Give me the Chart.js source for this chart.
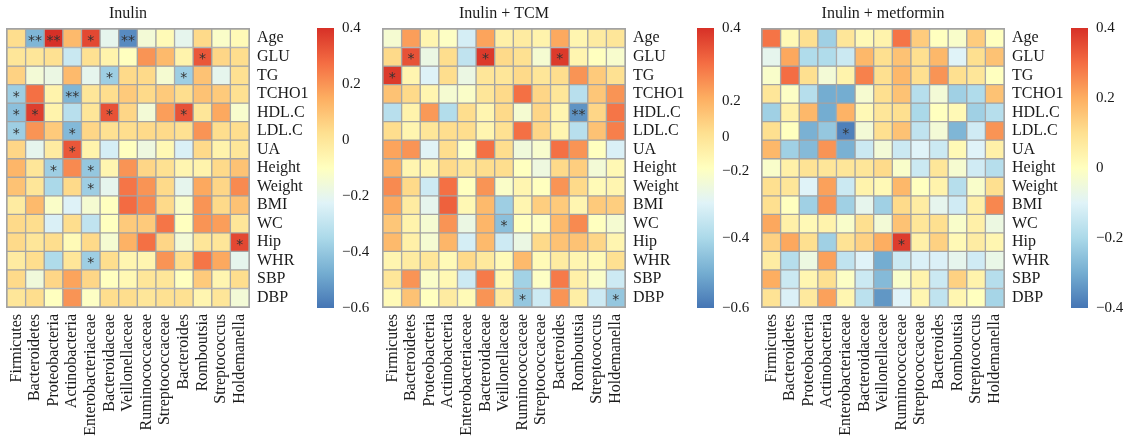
<!DOCTYPE html>
<html>
<head>
<meta charset="utf-8">
<script src="https://cdn.jsdelivr.net/npm/chart.js@4"></script>
<style>
  body { margin: 0; background: #fff; width: 1124px; height: 438px; position: relative; overflow: hidden; }
  canvas { position: absolute; top: 0; }
</style>
</head>
<body>
<canvas id="p1" width="318" height="438" style="left:0px"></canvas>
<canvas id="cb1" width="53" height="438" style="left:317px"></canvas>
<canvas id="p2" width="321" height="438" style="left:376px"></canvas>
<canvas id="cb2" width="53" height="438" style="left:697px"></canvas>
<canvas id="p3" width="316" height="438" style="left:755px"></canvas>
<canvas id="cb3" width="53" height="438" style="left:1071px"></canvas>
<script>
// genera / families on the x axis
const taxa = ['Firmicutes', 'Bacteroidetes', 'Proteobacteria', 'Actinobacteria', 'Enterobacteriaceae',
    'Bacteroidaceae', 'Veillonellaceae', 'Ruminococcaceae', 'Streptococcaceae', 'Bacteroides',
    'Romboutsia', 'Streptococcus', 'Holdemanella'];
// clinical traits, top to bottom
const traits = ['Age', 'GLU', 'TG', 'TCHO1', 'HDL.C', 'LDL.C', 'UA', 'Height', 'Weight', 'BMI', 'WC', 'Hip', 'WHR', 'SBP', 'DBP'];

// correlation values (one row per trait)
const inulinVals = [
    [0.03, -0.45, 0.40, 0.12, 0.35, -0.20, -0.55, -0.15, -0.08, -0.20, 0.04, -0.12, -0.08],
    [0.00, 0.00, 0.02, -0.28, 0.02, -0.05, -0.10, 0.20, 0.12, -0.05, 0.32, 0.05, 0.03],
    [0.06, -0.15, -0.18, 0.12, -0.20, -0.38, 0.04, 0.04, -0.14, -0.38, 0.10, -0.20, 0.02],
    [-0.38, 0.27, -0.05, -0.45, 0.00, 0.03, 0.08, 0.04, 0.08, 0.03, 0.10, 0.08, 0.02],
    [-0.42, 0.37, -0.05, -0.32, 0.00, 0.33, 0.05, -0.15, 0.18, 0.33, 0.00, 0.16, -0.13],
    [-0.38, 0.20, 0.08, -0.44, 0.05, 0.02, 0.03, 0.04, 0.04, 0.02, 0.20, 0.03, 0.03],
    [0.05, -0.20, -0.02, 0.32, -0.05, -0.25, -0.10, -0.17, -0.07, -0.24, 0.04, -0.05, 0.00],
    [0.13, 0.00, -0.38, 0.22, -0.40, -0.06, 0.20, 0.05, 0.02, -0.06, -0.05, 0.04, 0.10],
    [0.10, 0.00, -0.35, 0.04, -0.38, -0.20, 0.26, 0.20, 0.04, -0.20, 0.16, 0.05, 0.22],
    [-0.02, 0.12, -0.12, -0.23, -0.14, -0.10, 0.28, 0.22, 0.04, -0.12, 0.20, 0.04, 0.10],
    [0.04, 0.03, -0.24, 0.03, -0.30, -0.10, 0.08, 0.08, 0.26, -0.10, 0.20, 0.18, 0.00],
    [0.04, 0.00, 0.03, -0.08, 0.04, -0.14, 0.14, 0.27, 0.05, -0.15, 0.00, 0.00, 0.35],
    [-0.02, 0.03, -0.34, 0.00, -0.38, 0.03, -0.06, -0.06, 0.20, 0.03, 0.26, 0.16, -0.20],
    [0.04, -0.16, 0.05, 0.17, 0.05, -0.10, -0.07, 0.00, 0.00, -0.10, 0.08, -0.06, 0.03],
    [0.00, 0.03, -0.10, 0.20, -0.11, 0.03, 0.03, 0.00, 0.02, 0.02, -0.06, 0.00, -0.15]
];
const tcmVals = [
    [-0.14, 0.18, -0.06, -0.11, -0.25, 0.17, -0.04, -0.02, -0.05, 0.16, -0.06, -0.02, 0.00],
    [0.04, 0.33, -0.18, 0.03, -0.30, 0.38, 0.04, 0.02, -0.14, 0.38, -0.06, -0.10, -0.13],
    [0.38, -0.06, -0.23, 0.03, -0.18, 0.00, 0.00, 0.04, 0.00, 0.03, 0.20, 0.08, 0.02],
    [0.10, 0.04, -0.06, -0.14, -0.12, 0.00, 0.04, 0.27, 0.05, 0.00, -0.32, 0.09, 0.20],
    [-0.32, -0.05, 0.19, -0.33, 0.03, -0.06, 0.04, -0.14, 0.05, -0.06, -0.53, 0.05, 0.26],
    [0.03, -0.06, 0.00, 0.03, 0.03, -0.06, 0.02, 0.27, 0.05, -0.06, -0.32, 0.10, 0.24],
    [0.17, 0.20, -0.22, 0.03, -0.11, 0.27, 0.03, -0.16, -0.13, 0.27, 0.20, -0.10, -0.24],
    [0.14, -0.06, -0.06, 0.04, 0.00, 0.03, 0.03, -0.10, -0.17, 0.04, 0.07, -0.15, -0.07],
    [0.22, 0.04, -0.27, 0.27, -0.10, 0.20, -0.12, -0.06, -0.10, 0.20, 0.04, -0.08, -0.06],
    [0.16, -0.02, -0.20, 0.30, -0.07, 0.12, -0.38, -0.06, 0.07, 0.08, -0.06, 0.08, 0.07],
    [0.09, -0.05, -0.14, 0.20, -0.18, 0.13, -0.42, -0.10, -0.11, 0.12, 0.22, -0.10, -0.14],
    [0.12, -0.04, -0.14, 0.13, -0.25, 0.12, -0.27, -0.18, 0.04, 0.10, 0.10, 0.05, -0.06],
    [-0.06, -0.02, 0.00, -0.08, 0.04, -0.01, -0.08, 0.12, -0.08, -0.02, -0.06, -0.08, 0.02],
    [0.00, 0.20, -0.12, -0.07, -0.27, 0.25, -0.07, -0.37, -0.11, 0.25, -0.04, -0.12, -0.27],
    [-0.08, 0.10, -0.10, -0.02, -0.08, 0.20, -0.02, -0.40, -0.27, 0.20, -0.03, -0.27, -0.40]
];
const metforminVals = [
    [0.29, 0.02, 0.10, -0.22, 0.08, 0.02, 0.04, 0.29, 0.14, 0.00, -0.02, 0.14, 0.00],
    [-0.08, 0.21, -0.19, -0.19, -0.14, 0.18, 0.10, 0.16, 0.10, 0.18, -0.10, 0.10, 0.16],
    [-0.02, 0.30, 0.10, -0.04, 0.04, 0.27, 0.10, 0.18, 0.10, 0.24, 0.10, 0.08, 0.00],
    [0.08, -0.01, -0.18, -0.30, -0.30, -0.03, 0.10, 0.16, -0.18, -0.04, -0.22, -0.19, 0.16],
    [-0.22, 0.05, 0.18, -0.30, 0.19, 0.02, 0.08, 0.10, -0.20, 0.00, 0.02, -0.22, -0.18],
    [0.10, 0.00, -0.29, -0.24, -0.38, -0.04, 0.10, 0.16, -0.16, -0.04, -0.28, -0.13, 0.24],
    [0.18, -0.22, -0.27, 0.24, -0.29, -0.14, -0.04, -0.14, -0.10, -0.14, 0.02, -0.10, 0.05],
    [-0.02, 0.05, 0.09, 0.08, 0.08, 0.08, 0.11, -0.02, -0.14, 0.08, -0.03, -0.13, -0.18],
    [0.10, 0.08, -0.10, 0.22, -0.14, 0.04, 0.02, 0.18, 0.00, 0.04, -0.18, -0.02, 0.10],
    [0.10, 0.00, -0.22, 0.24, -0.22, -0.08, -0.22, 0.11, 0.06, -0.08, -0.13, 0.05, 0.26],
    [0.21, 0.05, 0.02, 0.04, -0.02, 0.10, -0.04, 0.16, 0.08, 0.10, -0.02, 0.05, -0.06],
    [0.13, 0.21, 0.10, -0.22, 0.09, 0.13, 0.20, 0.38, 0.05, 0.13, 0.02, 0.06, 0.03],
    [0.06, -0.18, -0.06, 0.22, -0.16, -0.10, -0.30, -0.14, -0.11, -0.11, -0.08, -0.13, -0.07],
    [0.20, -0.14, 0.03, 0.10, -0.01, -0.14, -0.27, -0.02, 0.04, -0.14, 0.13, 0.04, -0.18],
    [0.09, -0.11, 0.07, 0.22, 0.03, -0.17, -0.34, -0.10, 0.03, -0.16, 0.03, 0.00, -0.21]
];

// significance marks: [trait index, taxon index, mark]
const inulinStars = [[0, 1, '**'], [0, 2, '**'], [0, 4, '*'], [0, 6, '**'], [1, 10, '*'], [2, 5, '*'], [2, 9, '*'],
    [3, 0, '*'], [3, 3, '**'], [4, 0, '*'], [4, 1, '*'], [4, 5, '*'], [4, 9, '*'], [5, 0, '*'], [5, 3, '*'],
    [6, 3, '*'], [7, 2, '*'], [7, 4, '*'], [8, 4, '*'], [11, 12, '*'], [12, 4, '*']];
const tcmStars = [[1, 1, '*'], [1, 5, '*'], [1, 9, '*'], [2, 0, '*'], [4, 10, '**'], [10, 6, '*'], [14, 7, '*'], [14, 12, '*']];
const metforminStars = [[5, 4, '*'], [11, 7, '*']];

// colour bar ranges and ticks
const inulinRange = [-0.6, 0.4];
const tcmRange = [-0.6, 0.4];
const metforminRange = [-0.4, 0.4];
const inulinTicks = [0.4, 0.2, 0, -0.2, -0.4, -0.6];
const tcmTicks = [0.4, 0.14, 0.01, -0.11, -0.35, -0.6];   // labels sit unevenly on this bar
const metforminTicks = [0.4, 0.2, 0, -0.2, -0.4];
const inulinTickLabels = ['0.4', '0.2', '0', '\u22120.2', '\u22120.4', '\u22120.6'];
const tcmTickLabels = ['0.4', '0.2', '0', '\u22120.2', '\u22120.4', '\u22120.6'];
const metforminTickLabels = ['0.4', '0.2', '0', '\u22120.2', '\u22120.4'];

// RdYlBu reversed, low -> high
const palette = ['#4575b4', '#74add1', '#abd9e9', '#e0f3f8', '#ffffbf', '#fee090', '#fdae61', '#f46d43', '#d73027'];

Chart.defaults.font.family = "'Liberation Serif', 'DejaVu Serif', serif";
Chart.defaults.font.size = 16;
Chart.defaults.color = '#1a1a1a';

function hexRgb(h) {
    return [1, 3, 5].map(i => parseInt(h.slice(i, i + 2), 16));
}

function colorFor(v, range) {
    let t = (v - range[0]) / (range[1] - range[0]);
    t = Math.max(0, Math.min(1, t)) * (palette.length - 1);
    const i = Math.min(Math.floor(t), palette.length - 2);
    const f = t - i;
    const a = hexRgb(palette[i]), b = hexRgb(palette[i + 1]);
    const c = a.map((x, k) => Math.round(x + (b[k] - x) * f));
    return `rgb(${c[0]},${c[1]},${c[2]})`;
}

function heatmap(id, title, vals, stars, range, axisW) {
    const n = traits.length;
    const datasets = traits.map((tr, i) => ({
        label: tr,
        data: taxa.map(() => [n - 1 - i, n - i]),
        backgroundColor: vals[i].map(v => colorFor(v, range)),
        borderColor: '#a3a3a3',
        borderWidth: 1,
        borderSkipped: false,
        barPercentage: 1,
        categoryPercentage: 1
    }));

    const marks = {
        id: 'marks',
        afterDatasetsDraw(chart) {
            const { ctx, chartArea, scales } = chart;
            ctx.save();
            // outer frame, same weight as the inner cell lines
            ctx.strokeStyle = '#a3a3a3';
            ctx.lineWidth = 1;
            ctx.strokeRect(chartArea.left - 0.5, chartArea.top - 0.5, chartArea.width + 1, chartArea.height + 1);

            ctx.fillStyle = '#1a1a1a';
            ctx.textAlign = 'center';
            ctx.textBaseline = 'middle';
            ctx.font = "16px 'Liberation Serif'";
            ctx.fillText(title, (chartArea.left + chartArea.right) / 2, 14);

            ctx.fillStyle = '#333';
            ctx.font = "14px 'DejaVu Sans'";
            stars.forEach(([r, c, s]) => {
                const x = scales.x.getPixelForValue(c);
                const y = scales.y.getPixelForValue(n - r - 0.5);
                ctx.fillText(s, x, y + 3);
            });
            ctx.restore();
        }
    };

    new Chart(document.getElementById(id), {
        type: 'bar',
        data: { labels: taxa, datasets },
        options: {
            responsive: false,
            animation: false,
            layout: { padding: { left: 7, top: 29 } },
            plugins: { legend: { display: false }, tooltip: { enabled: false } },
            scales: {
                x: {
                    stacked: true,
                    grid: { display: false, drawTicks: false },
                    border: { display: false },
                    ticks: { minRotation: 90, maxRotation: 90, autoSkip: false, padding: 7 },
                    afterFit: s => { s.height = 131; }
                },
                y: {
                    position: 'right',
                    min: 0,
                    max: n,
                    grid: { display: false, drawTicks: false },
                    border: { display: false },
                    afterBuildTicks: s => { s.ticks = traits.map((t, i) => ({ value: n - i - 0.5 })); },
                    ticks: { autoSkip: false, padding: 8, callback: v => traits[Math.round(n - 0.5 - v)] },
                    afterFit: s => { s.width = axisW; }
                }
            }
        },
        plugins: [marks]
    });
}

function colorbar(id, range, tickVals, tickLabels) {
    new Chart(document.getElementById(id), {
        type: 'bar',
        data: {
            labels: [''],
            datasets: [{
                data: [[range[0], range[1]]],
                backgroundColor: (c) => {
                    const a = c.chart.chartArea;
                    if (!a) return '#fff';
                    const g = c.chart.ctx.createLinearGradient(0, a.bottom, 0, a.top);
                    palette.forEach((col, i) => g.addColorStop(i / (palette.length - 1), col));
                    return g;
                },
                borderWidth: 0,
                barPercentage: 1,
                categoryPercentage: 1
            }]
        },
        options: {
            responsive: false,
            animation: false,
            layout: { padding: { top: 28, bottom: 130 } },
            plugins: { legend: { display: false }, tooltip: { enabled: false } },
            scales: {
                x: { display: false },
                y: {
                    position: 'right',
                    min: range[0],
                    max: range[1],
                    grid: { display: false, drawTicks: false },
                    border: { display: false },
                    afterBuildTicks: s => { s.ticks = tickVals.map(v => ({ value: v })); },
                    ticks: { padding: 8, font: { size: 15 }, callback: (v, i) => tickLabels[i] },
                    afterFit: s => { s.width = 36; }
                }
            }
        }
    });
}

heatmap('p1', 'Inulin', inulinVals, inulinStars, inulinRange, 69);
heatmap('p2', 'Inulin + TCM', tcmVals, tcmStars, tcmRange, 72);
heatmap('p3', 'Inulin + metformin', metforminVals, metforminStars, metforminRange, 67);
colorbar('cb1', inulinRange, inulinTicks, inulinTickLabels);
colorbar('cb2', tcmRange, tcmTicks, tcmTickLabels);
colorbar('cb3', metforminRange, metforminTicks, metforminTickLabels);
</script>
</body>
</html>
